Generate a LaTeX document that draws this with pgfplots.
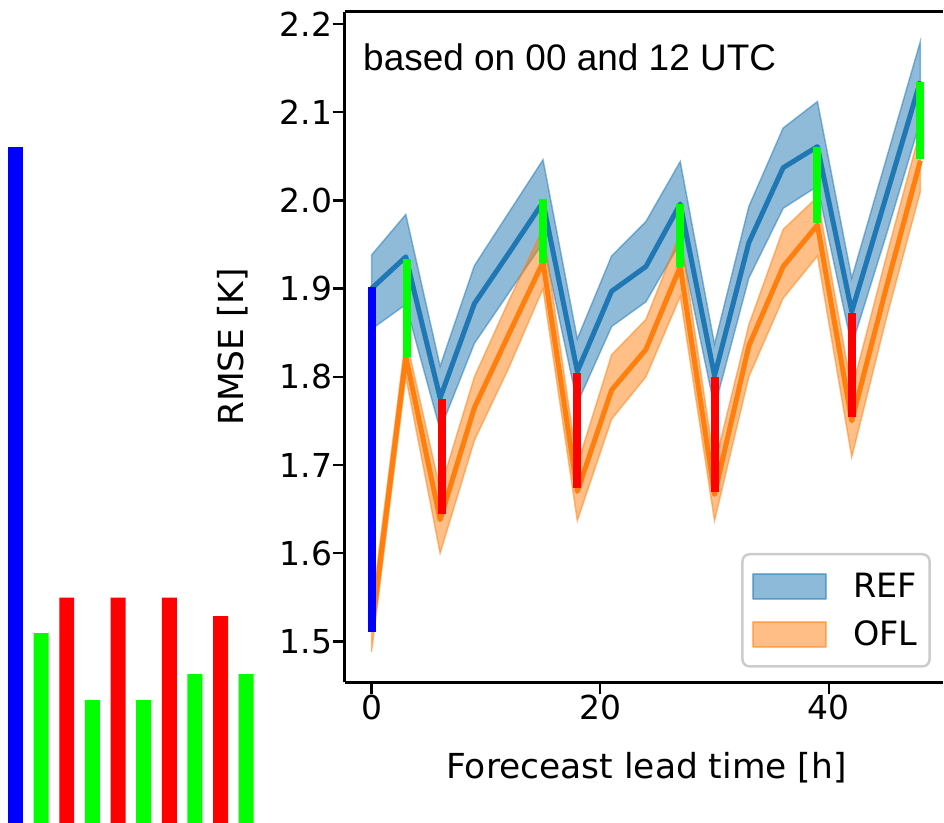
\documentclass[border=0pt]{standalone}
\usepackage{pgfplots}
\pgfplotsset{compat=1.18}
\usepgfplotslibrary{fillbetween}
\usepackage{pgfplotstable}
\usepackage{fontspec}
\setmainfont{DejaVu Sans}
\newfontfamily\arialfont{Liberation Sans}
\definecolor{cref}{HTML}{1F77B4}
\definecolor{cofl}{HTML}{FF7F0E}
\definecolor{sblue}{RGB}{0,0,255}
\definecolor{sgreen}{RGB}{0,255,0}
\definecolor{sred}{RGB}{255,0,0}

\pgfplotstableread{
h  ref   reflo refhi ofl   ofllo oflhi
0  1.900 1.854 1.938 1.511 1.488 1.535
3  1.936 1.882 1.984 1.823 1.800 1.845
6  1.776 1.740 1.812 1.638 1.600 1.672
9  1.883 1.838 1.926 1.765 1.728 1.800
12 1.940 1.895 1.986 1.848 1.810 1.886
15 1.998 1.952 2.046 1.930 1.900 1.968
18 1.806 1.770 1.843 1.670 1.637 1.700
21 1.897 1.857 1.937 1.785 1.752 1.825
24 1.925 1.885 1.976 1.831 1.800 1.865
27 1.996 1.952 2.044 1.925 1.891 1.963
30 1.801 1.765 1.837 1.667 1.637 1.700
33 1.952 1.912 1.993 1.835 1.800 1.859
36 2.037 1.991 2.082 1.925 1.889 1.967
39 2.061 2.016 2.112 1.972 1.937 2.004
42 1.874 1.835 1.912 1.750 1.709 1.785
45 2.004 1.960 2.046 1.900 1.865 1.935
48 2.135 2.090 2.180 2.045 2.010 2.080
}\datatable

\pgfplotsset{bandlegend/.style={legend image code/.code={\draw[##1, line width=2pt, sharp corners] (0pt,-12.5pt) rectangle (73pt,12.5pt);}}}

\begin{document}
\begin{tikzpicture}[x=1pt,y=1pt]
\path (0,0) rectangle (944,824);
% left bars
\begin{axis}[at={(0pt,0pt)}, anchor=south west, scale only axis,
  width=280pt, height=824pt, hide axis,
  xmin=-0.604, xmax=10.304, ymin=0, ymax=0.47465,
  ybar, bar width=15pt, bar shift=0pt]
\addplot[fill=sblue, draw=none] coordinates {(0,0.390)};
\addplot[fill=sgreen, draw=none] coordinates {(1,0.1094) (3,0.0708) (5,0.0708) (7,0.0858) (9,0.0858)};
\addplot[fill=sred, draw=none] coordinates {(2,0.130) (4,0.130) (6,0.130) (8,0.1192)};
\end{axis}
% main axis
\begin{axis}[at={(345pt,140.7pt)}, anchor=south west, scale only axis,
  width=599pt, height=671.6pt,
  xmin=-2.358, xmax=49.96, ymin=1.4536, ymax=2.2139,
  axis x line=box, axis y line=left,
  axis line style={-, line width=2.5pt, black},
  tick align=outside, xtick pos=bottom, ytick pos=left,
  major tick length=12pt, tick style={line width=2.5pt, black},
  xtick={0,20,40}, xticklabels={0,20,40},
  ytick={1.5,1.6,1.7,1.8,1.9,2.0,2.1,2.2},
  yticklabels={1.5,1.6,1.7,1.8,1.9,2.0,2.1,2.2},
  /pgf/number format/assume math mode=true,
  ticklabel style={font=\fontsize{33}{33}\selectfont},
  yticklabel style={anchor=east, inner sep=0pt},
  xticklabel style={anchor=north, inner sep=0pt},
  xlabel={Foreceast lead time [h]},
  xlabel style={at={(axis description cs:0.5046,0)}, anchor=base, yshift=-96.7pt, font=\fontsize{34.5}{34.5}\selectfont},
  ylabel={RMSE [K]},
  ylabel style={at={(axis description cs:-0.187,0.5)}, anchor=center, font=\fontsize{34.5}{34.5}\selectfont},
  legend style={at={(0.98,0.022)}, anchor=south east, draw=black!20, line width=2.5pt,
    rounded corners=7pt, fill=white, font=\fontsize{33.5}{33.5}\selectfont,
    inner xsep=10pt, inner ysep=17pt, row sep=18pt,
    /tikz/every odd column/.append style={column sep=24pt}},
  legend cell align=left,
  line join=round,
]
% REF band
\addplot[name path=refhi, draw=none, forget plot] table[x=h,y=refhi]{\datatable};
\addplot[name path=reflo, draw=none, forget plot] table[x=h,y=reflo]{\datatable};
\addplot[fill=cref, fill opacity=0.5, draw=cref, draw opacity=0.5, line width=1.5pt, bandlegend] fill between[of=refhi and reflo];
\addlegendentry{REF}
\addplot[cref, line width=5pt, forget plot] table[x=h,y=ref]{\datatable};
% OFL band
\addplot[name path=oflhi, draw=none, forget plot] table[x=h,y=oflhi]{\datatable};
\addplot[name path=ofllo, draw=none, forget plot] table[x=h,y=ofllo]{\datatable};
\addplot[fill=cofl, fill opacity=0.5, draw=cofl, draw opacity=0.5, line width=1.5pt, bandlegend] fill between[of=oflhi and ofllo];
\addlegendentry{OFL}
\addplot[cofl, line width=5pt, forget plot] table[x=h,y=ofl]{\datatable};
% difference segments
\addplot[sblue, line width=8pt, line cap=butt, forget plot] coordinates {(0,1.511) (0,1.902)};
\addplot[sgreen, line width=8pt, line cap=butt, forget plot] coordinates {(3.1,1.823) (3.1,1.934)};
\addplot[sred, line width=8pt, line cap=butt, forget plot] coordinates {(6.2,1.644) (6.2,1.775)};
\addplot[sgreen, line width=8pt, line cap=butt, forget plot] coordinates {(15,1.929) (15,2.001)};
\addplot[sred, line width=8pt, line cap=butt, forget plot] coordinates {(18,1.674) (18,1.8045)};
\addplot[sgreen, line width=8pt, line cap=butt, forget plot] coordinates {(27,1.925) (27,1.996)};
\addplot[sred, line width=8pt, line cap=butt, forget plot] coordinates {(30,1.669) (30,1.800)};
\addplot[sgreen, line width=8pt, line cap=butt, forget plot] coordinates {(39,1.974) (39,2.061)};
\addplot[sred, line width=8pt, line cap=butt, forget plot] coordinates {(42,1.754) (42,1.872)};
\addplot[sgreen, line width=8pt, line cap=butt, forget plot] coordinates {(48,2.047) (48,2.134)};
\end{axis}
\node[anchor=base west, inner sep=0pt, font=\arialfont\fontsize{37}{37}\selectfont] at (363.5,753.5) {based on 00 and 12 UTC};
\end{tikzpicture}
\end{document}
